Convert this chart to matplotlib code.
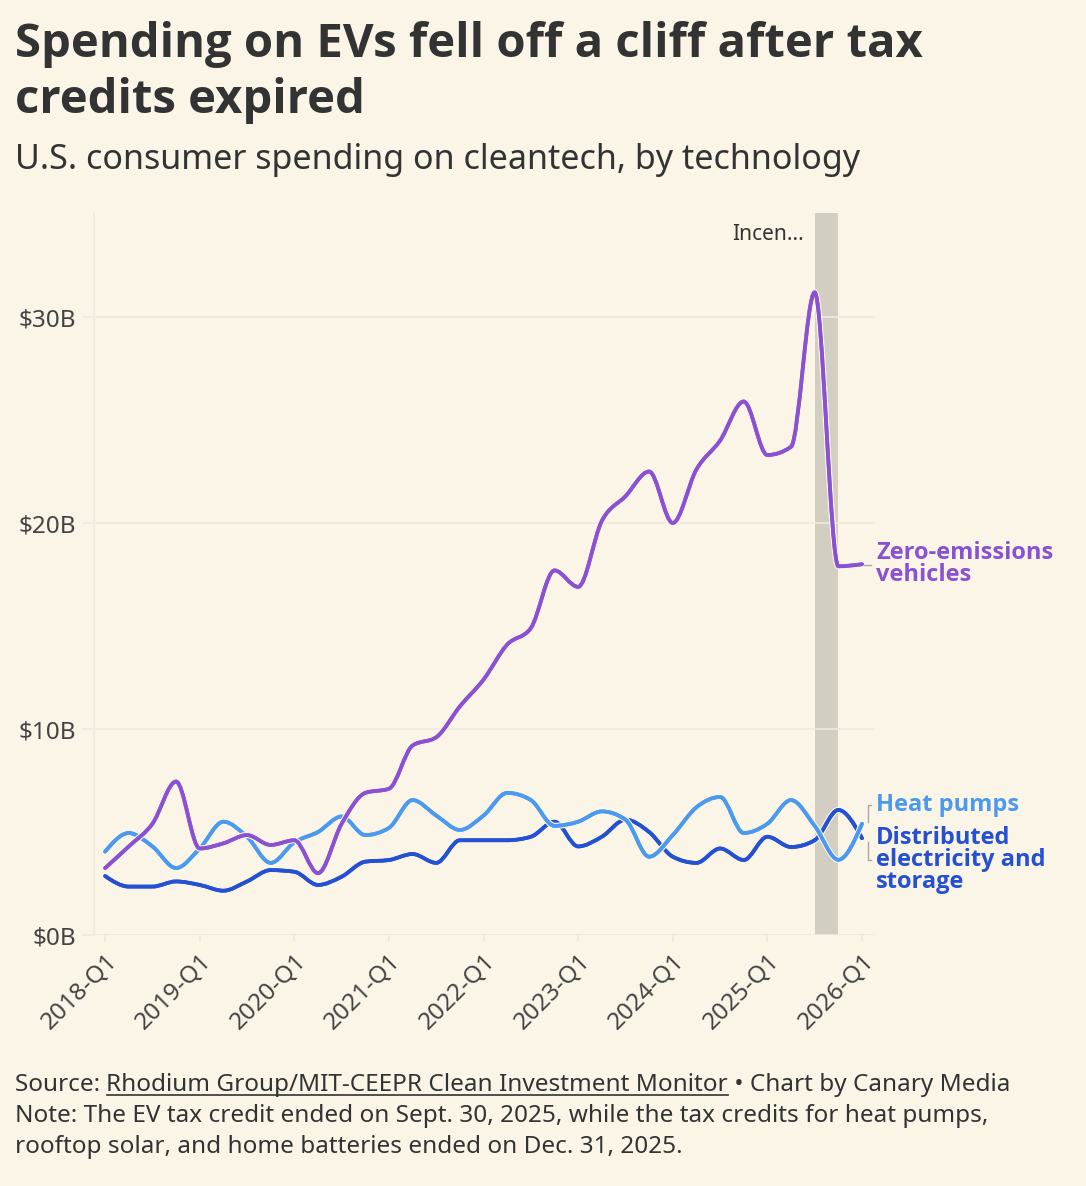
import numpy as np
import matplotlib
matplotlib.use("Agg")
import matplotlib.pyplot as plt
from matplotlib.path import Path
from matplotlib.patches import PathPatch
import matplotlib.patheffects as pe

plt.rcParams['font.family'] = ['Noto Sans', 'DejaVu Sans']
BOLD_FONT = ['Open Sans', 'DejaVu Sans']

# quarterly values, $B, 2018-Q1 .. 2026-Q1
quarters = [f"{y}-Q{q}" for y in range(2018, 2027) for q in range(1, 5)][:33]
zev = [3.25, 4.3, 5.4, 7.45, 4.2, 4.45, 4.85, 4.37, 4.6, 3.0, 5.4, 6.9,
       7.1, 9.2, 9.6, 11.1, 12.4, 14.1, 14.9, 17.7, 16.9, 20.1, 21.3, 22.5,
       20.0, 22.6, 24.0, 25.9, 23.3, 23.7, 31.2, 17.9, 18.0]
heat_pumps = [4.05, 4.95, 4.3, 3.25, 4.2, 5.5, 4.77, 3.5, 4.5, 5.0, 5.75, 4.85,
              5.2, 6.55, 5.8, 5.1, 5.8, 6.9, 6.55, 5.3, 5.5, 6.0, 5.6, 3.8,
              4.85, 6.2, 6.7, 4.95, 5.4, 6.55, 5.3, 3.65, 5.4]
distributed = [2.86, 2.35, 2.35, 2.6, 2.43, 2.15, 2.6, 3.15, 3.07, 2.43, 2.83, 3.56,
               3.64, 3.93, 3.5, 4.6, 4.6, 4.6, 4.77, 5.5, 4.3, 4.77, 5.6, 5.0,
               3.8, 3.5, 4.2, 3.64, 4.77, 4.27, 4.6, 6.07, 4.7]
tick_idx = list(range(0, 33, 4))
yticks = [0, 10, 20, 30]
ytick_labels = ["$0B", "$10B", "$20B", "$30B"]

bg = "#FBF5E7"
purple = "#8A52D2"
light_blue = "#4C9AEF"
dark_blue = "#2450D4"
grid_c = "#EEEAE2"
text_c = "#333333"


def monotone_path(x, y):
    # d3 curveMonotoneX as cubic bezier segments
    x = np.asarray(x, float)
    y = np.asarray(y, float)
    n = len(x)
    h = np.diff(x)
    s = np.diff(y) / h
    t = np.zeros(n)
    sg = lambda v: -1.0 if v < 0 else 1.0
    for i in range(1, n - 1):
        p = (s[i - 1] * h[i] + s[i] * h[i - 1]) / (h[i - 1] + h[i])
        t[i] = (sg(s[i - 1]) + sg(s[i])) * min(abs(s[i - 1]), abs(s[i]), 0.5 * abs(p))
    t[0] = (3 * s[0] - t[1]) / 2
    t[-1] = (3 * s[-1] - t[-2]) / 2
    verts = [(x[0], y[0])]
    codes = [Path.MOVETO]
    for i in range(n - 1):
        d = h[i] / 3
        verts += [(x[i] + d, y[i] + d * t[i]), (x[i + 1] - d, y[i + 1] - d * t[i + 1]), (x[i + 1], y[i + 1])]
        codes += [Path.CURVE4] * 3
    return Path(verts, codes)


fig = plt.figure(figsize=(10.86, 11.86), dpi=100, facecolor=bg)
ax = fig.add_axes([94 / 1086, 1 - 935 / 1186, 781 / 1086, 722 / 1186])
ax.set_facecolor(bg)

xs = np.arange(len(quarters))
ax.axvspan(30, 31, color="#D2CEC1", zorder=1, lw=0)

for series, col in [(distributed, dark_blue), (heat_pumps, light_blue), (zev, purple)]:
    patch = PathPatch(monotone_path(xs, series), facecolor="none", edgecolor=col, lw=2.7,
                      capstyle="round", joinstyle="round", zorder=3)
    patch.set_path_effects([pe.withStroke(linewidth=4.5, foreground=bg), pe.Normal()])
    ax.add_patch(patch)

ax.set_xlim(-0.47, 32.55)
ax.set_ylim(0, 35.05)
ax.set_yticks(yticks)
ax.set_yticklabels(ytick_labels)
ax.set_xticks(tick_idx)
ax.set_xticklabels([quarters[i] for i in tick_idx], rotation=45, ha="right", va="top",
                   rotation_mode="anchor")
ax.grid(axis="y", color=grid_c, lw=1.2, zorder=0)
for sp in ["top", "right", "bottom"]:
    ax.spines[sp].set_visible(False)
ax.spines["left"].set_color(grid_c)
ax.spines["left"].set_linewidth(1.2)
ax.tick_params(axis="y", length=9, width=1.2, color=grid_c, pad=4, labelsize=17.5, labelcolor="#444444")
ax.tick_params(axis="x", length=5, width=1.2, color=grid_c, pad=5, labelsize=17.5, labelcolor="#444444")
ax.axhline(0, color=grid_c, lw=1.2, zorder=0)

ax.text(29.55, 34.0, "Incen...", ha="right", va="center", fontsize=15, color=text_c)

# labels at line ends
lead = dict(color="#A8A8A8", lw=1, clip_on=False, zorder=4)
ax.plot([32.1, 32.4], [17.95, 17.95], **lead)
ax.plot([32.4, 32.25, 32.25], [6.3, 6.3, 5.5], **lead)
ax.plot([32.25, 32.25, 32.4], [4.5, 3.65, 3.65], **lead)
lab = dict(fontsize=17, fontweight="bold", va="center", ha="left", linespacing=0.88, family=BOLD_FONT)
fig.text(876 / 1086, 1 - 564 / 1186, "Zero-emissions\nvehicles", color=purple, **lab)
fig.text(876 / 1086, 1 - 805 / 1186, "Heat pumps", color=light_blue, **lab)
fig.text(876 / 1086, 1 - 860 / 1186, "Distributed\nelectricity and\nstorage", color=dark_blue, **lab)

# title and subtitle
fig.text(15 / 1086, 1 - 57 / 1186, "Spending on EVs fell off a cliff after tax", fontsize=34,
         fontweight="bold", color=text_c, va="baseline", family=BOLD_FONT)
fig.text(15 / 1086, 1 - 113 / 1186, "credits expired", fontsize=34,
         fontweight="bold", color=text_c, va="baseline", family=BOLD_FONT)
fig.text(15 / 1086, 1 - 169 / 1186, "U.S. consumer spending on cleantech, by technology",
         fontsize=24.5, color=text_c, va="baseline")

# footer
fs = 17.5
renderer = fig.canvas.get_renderer()
y1 = 1 - 1091 / 1186
t1 = fig.text(15 / 1086, y1, "Source: ", fontsize=fs, color=text_c, va="baseline")
w1 = t1.get_window_extent(renderer).width
t2 = fig.text((15 + w1) / 1086, y1, "Rhodium Group/MIT-CEEPR Clean Investment Monitor",
              fontsize=fs, color=text_c, va="baseline")
w2 = t2.get_window_extent(renderer).width
fig.add_artist(plt.Line2D([(15 + w1) / 1086, (15 + w1 + w2) / 1086], [y1 - 4 / 1186, y1 - 4 / 1186],
                          color=text_c, lw=1.2, transform=fig.transFigure))
fig.text((15 + w1 + w2) / 1086, y1, " \u2022 Chart by Canary Media", fontsize=fs, color=text_c, va="baseline")
fig.text(15 / 1086, 1 - 1122 / 1186,
         "Note: The EV tax credit ended on Sept. 30, 2025, while the tax credits for heat pumps,",
         fontsize=fs, color=text_c, va="baseline")
fig.text(15 / 1086, 1 - 1153 / 1186, "rooftop solar, and home batteries ended on Dec. 31, 2025.",
         fontsize=fs, color=text_c, va="baseline")

fig.savefig("out.png", dpi=100, facecolor=bg)
